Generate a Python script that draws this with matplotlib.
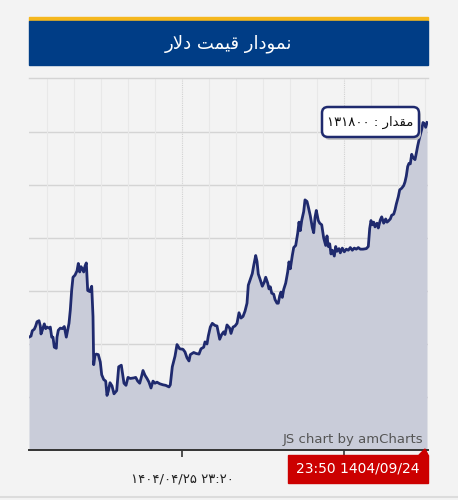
import numpy as np
import matplotlib
matplotlib.use('Agg')
import matplotlib.pyplot as plt
from matplotlib.patches import Rectangle, Polygon, FancyBboxPatch

# dollar price (step = time position along the x axis)
step = [0, 2, 3.3, 5.3, 6.7, 8, 10, 11.3, 12, 13.3,
        15.3, 16.7, 18, 20, 21.3, 22.7, 24, 25.3, 27.3, 28,
        29.3, 31.3, 33.3, 35.3, 37.3, 38.7, 40, 41.3, 42.7, 44,
        46, 48, 49.3, 50.7, 52, 53.3, 54.7, 56, 57.3, 58,
        58.7, 60.7, 62.7, 64, 64.7, 66, 67.3, 69.3, 71.3, 72.7,
        74.7, 76.7, 78, 79.3, 81, 83, 85, 87.7, 89.7, 92.3,
        95, 97, 99, 101.3, 104.7, 106.7, 108.7, 110.7, 112.7, 114,
        116, 118, 120, 122, 124, 126, 128, 130.7, 134, 136.7,
        140, 141.3, 143.3, 146, 148, 150.7, 154, 156, 158, 160,
        161.3, 164.7, 167.3, 170, 172, 174.7, 176, 178, 179.3, 181.3,
        183.3, 186, 188, 190.7, 192.7, 194.7, 196, 198, 200.7, 202,
        204, 206, 208, 210, 212, 214, 216, 218, 219.3, 221.3,
        223.3, 224.7, 226.7, 228, 229.3, 231.3, 233.3, 235.3, 236.7, 238.7,
        240, 241.3, 242.7, 244.7, 246, 248, 249.3, 250.7, 252, 253.3,
        254.7, 256.7, 258.7, 260, 261.3, 263.3, 264.7, 266.7, 268.7, 270,
        271.3, 272.7, 274.7, 276, 278, 279.3, 281.3, 283.3, 284.7, 286,
        287.3, 289.3, 290.7, 292.7, 294.7, 296.7, 298, 299.3, 300.7, 302,
        303.3, 305.3, 306.7, 308, 310, 311.3, 313.3, 315.3, 317.3, 319.3,
        321.3, 323.3, 325.3, 327.3, 329.3, 331.3, 334, 337.3, 339.3, 340.7,
        342, 343.3, 344.7, 346, 348, 349.3, 351.3, 352.7, 354.7, 356.7,
        358, 359.3, 361.3, 362.7, 364.7, 366, 367.3, 369.3, 370.7, 372.7,
        374.7, 376, 377.3, 378.7, 380, 381.3, 382.7, 384, 386, 387.3,
        388.7, 390, 391.3, 392.7, 394, 395.3, 396.7, 398]
price = [91300, 91500, 92500, 92800, 93400, 94200, 94400, 93400, 91900, 92600,
         93800, 92900, 93200, 93000, 93200, 91300, 91300, 89400, 89200, 91300,
         92600, 93000, 92900, 93300, 91300, 92600, 93900, 96400, 100200, 102600,
         103000, 103800, 105200, 103600, 104600, 104200, 103600, 104700, 105300, 102700,
         100100, 99900, 100900, 95200, 86100, 87900, 88100, 88000, 86600, 84200,
         83300, 83000, 80300, 81100, 82700, 82100, 80600, 81200, 85700, 86000,
         82600, 82200, 83700, 83500, 83600, 83700, 83000, 82600, 84000, 85000,
         84100, 83500, 82800, 81700, 83000, 82600, 82800, 82500, 82300, 82200,
         81900, 82300, 85700, 87700, 89900, 89100, 89000, 88500, 87400, 86800,
         88000, 88400, 88200, 88100, 89100, 89400, 90400, 90000, 91500, 93200,
         93900, 93500, 93400, 90900, 91800, 92300, 91800, 93600, 93000, 92000,
         93200, 93400, 93900, 95900, 94900, 95200, 96200, 97700, 101100, 102200,
         103300, 104800, 106700, 105600, 103200, 102100, 100900, 101700, 102600, 101500,
         100400, 100800, 99600, 99400, 98400, 97700, 97700, 99100, 99800, 98800,
         100300, 101500, 103600, 105500, 104200, 106700, 108200, 108600, 110900, 113000,
         111400, 113300, 115000, 117200, 116900, 115900, 114200, 112000, 111000, 113900,
         115200, 113300, 112800, 112500, 110000, 108600, 110400, 108400, 108900, 107000,
         107700, 106600, 108400, 107500, 108000, 107200, 108100, 107400, 107900, 107700,
         108200, 107700, 108100, 107900, 108200, 107900, 107900, 108000, 108400, 111800,
         113300, 112500, 113000, 112100, 112800, 111900, 113400, 114000, 112800, 113600,
         113000, 113200, 113600, 114300, 114500, 115300, 116400, 117800, 119100, 119400,
         119900, 120600, 121700, 123500, 124100, 124000, 125800, 125200, 124800, 126000,
         127400, 128500, 129500, 130500, 131800, 131600, 130900, 131800]

y_grid = [80000, 90000, 100000, 110000, 120000, 130000]
x_major = [153, 315]
x_minor = [18, 45, 72, 99, 126, 180, 207, 234, 261, 288, 342, 369, 396]

# persian strings (presentation forms in visual order, no shaping engine here)
title_txt = '\uFEAD\uFEFB\uFEA9 \uFE96\uFEE4\uFEF4\uFED7 \uFEAD\uFE8D\uFEA9\uFEEE\uFEE4\uFEE7'
tip_txt = '\u06F1\u06F3\u06F1\u06F8\u06F0\u06F0 : \uFEAD\uFE8D\uFEAA\uFED8\uFEE3'
xlab_txt = '\u06F1\u06F4\u06F0\u06F4/\u06F0\u06F4/\u06F2\u06F5 \u06F2\u06F3:\u06F2\u06F0'
cursor_txt = '23:50 1404/09/24'

W, H = 458, 500
bg = '#f3f3f3'
navy = '#1f2a6e'
fill = '#c9ccd9'

def fx(px):
    return px/W

def fy(py):
    return 1 - py/H

fig = plt.figure(figsize=(W/100, H/100), dpi=100, facecolor=bg)

# header banner
fig.patches.append(Rectangle((fx(29), fy(21)), fx(428)-fx(29), fy(17)-fy(21),
    transform=fig.transFigure, color='#f5b71e', zorder=1))
fig.patches.append(Rectangle((fx(29), fy(65)), fx(428)-fx(29), fy(21)-fy(65),
    transform=fig.transFigure, color='#003d86', zorder=1))
fig.text(fx(228), fy(44), title_txt, color='white', fontsize=13,
    ha='center', va='center', family='DejaVu Sans')

ax = fig.add_axes([fx(29), fy(450), fx(428)-fx(29), fy(78)-fy(450)])
ax.set_facecolor(bg)
ax.set_xlim(0, 399)
ax.set_ylim(70000, 140200)

for v in y_grid:
    ax.axhline(v, color='#d4d4d4', lw=1.0, zorder=1)
for v in x_minor:
    ax.axvline(v, color='#e8e8e8', lw=0.8, zorder=1)
for v in x_major:
    ax.axvline(v, color='#d2d2d2', lw=0.8, ls=(0, (1, 1)), zorder=1)

ax.fill_between(step, price, 70000, color=fill, lw=0, zorder=2)
ax.plot(step, price, color=navy, lw=2.0, zorder=3, solid_joinstyle='round')

for s in ['left', 'right']:
    ax.spines[s].set_visible(False)
ax.spines['top'].set_color('#d4d4d4')
ax.spines['top'].set_linewidth(1.0)
ax.spines['bottom'].set_color('#333333')
ax.spines['bottom'].set_linewidth(1.4)
ax.set_yticks([])
ax.set_xticks(x_major)
ax.set_xticklabels([])
ax.tick_params(axis='x', length=5, width=1.2, color='#333333')

fig.text(fx(182), fy(479), xlab_txt, fontsize=9.5, ha='center', va='center',
    color='#222222', family='DejaVu Sans')

fig.text(fx(423), fy(439), 'JS chart by amCharts', fontsize=9.5, ha='right',
    va='center', color='#555555', family='DejaVu Sans')

# cursor label
fig.patches.append(Rectangle((fx(288), fy(483)), fx(428)-fx(288), fy(455)-fy(483),
    transform=fig.transFigure, color='#cc0000', zorder=5))
fig.patches.append(Polygon([(fx(419), fy(455)), (fx(428), fy(455)), (fx(425), fy(449))],
    closed=True, transform=fig.transFigure, color='#cc0000', zorder=5))
fig.text(fx(358), fy(469), cursor_txt, fontsize=10, ha='center', va='center',
    color='white', family='DejaVu Sans', zorder=6)

# value balloon with a soft shadow (drawn in pixel units)
bx0, bx1, by0, by1 = 322, 419, 107, 137
fig.patches.append(FancyBboxPatch((bx0 + 2, H - by1 - 3), bx1 - bx0, by1 - by0,
    boxstyle='round,pad=0,rounding_size=6', transform=None,
    fc='#c4c4c4', ec='none', zorder=5))
fig.patches.append(FancyBboxPatch((bx0, H - by1), bx1 - bx0, by1 - by0,
    boxstyle='round,pad=0,rounding_size=6', transform=None,
    fc='white', ec=navy, lw=1.8, zorder=6))
fig.text(fx((bx0 + bx1) / 2), fy((by0 + by1) / 2), tip_txt, fontsize=9.5,
    ha='center', va='center', color='#111111', family='DejaVu Sans', zorder=7)

# bottom separator
fig.add_artist(plt.Line2D([0, 1], [fy(497), fy(497)], transform=fig.transFigure,
    color='#dcdcdc', lw=1.5))

fig.savefig('out.png', dpi=100, facecolor=bg)
